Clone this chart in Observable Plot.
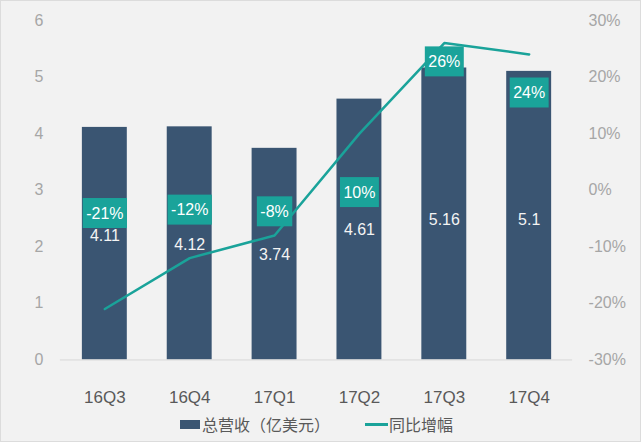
<!DOCTYPE html>
<html>
<head>
<meta charset="utf-8">
<script src="https://cdn.jsdelivr.net/npm/d3@7"></script>
<script src="https://cdn.jsdelivr.net/npm/@observablehq/plot@0.6"></script>
<style>
  html, body { margin: 0; padding: 0; background: #f2f2f2; }
  #wrap { position: relative; width: 641px; height: 442px; box-sizing: border-box;
          border: 1px solid #dcdcdc; background: #f2f2f2; overflow: hidden;
          font-family: "Liberation Sans", Arial, "Noto Sans CJK SC", sans-serif; }
  #chart { position: absolute; left: -1px; top: -1px; }
  #legend { position: absolute; left: 179px; top: 411px; display: flex; align-items: center;
            font-size: 16px; color: #595959; font-family: "Noto Sans CJK SC", "Liberation Sans", sans-serif; }
  .sw-bar { width: 20px; height: 9px; background: #3a5572; margin-right: 2px; }
  .sw-line { width: 23px; height: 3px; background: #1aa39a; margin-right: 1px; margin-left: 35px; }
</style>
</head>
<body>
<div id="wrap">
  <div id="chart"></div>
  <div id="legend">
    <div class="sw-bar"></div><span>总营收（亿美元）</span>
    <div class="sw-line"></div><span>同比增幅</span>
  </div>
</div>
<script>
// Data
const quarters = ["16Q3", "16Q4", "17Q1", "17Q2", "17Q3", "17Q4"];
const revenue = [4.11, 4.12, 3.74, 4.61, 5.16, 5.1];       // 总营收（亿美元）
const growth = [-21, -12, -8, 10, 26, 24];                  // 同比增幅 (%)
const leftTicks = [0, 1, 2, 3, 4, 5, 6];
const growthTicks = [-30, -20, -10, 0, 10, 20, 30];

// Secondary axis mapping: -30%..30% onto 0..6
const toLeft = p => (p + 30) / 10;

const rows = quarters.map((q, i) => ({q, rev: revenue[i], g: growth[i]}));

// label placement (in left-axis units), as hand-placed in the original
const pctLabelAt = [2.59, 2.65, 2.62, 2.96, 5.27, 4.72];
const valLabelAt = [2.2, 2.03, 1.85, 2.29, 2.48, 2.48];

const chart = Plot.plot({
  width: 641,
  height: 408,
  marginTop: 20,
  marginBottom: 48,
  marginLeft: 60,
  marginRight: 68,
  style: {background: "transparent", fontFamily: "'Liberation Sans', Arial, sans-serif", fontSize: "16px", overflow: "visible"},
  x: {domain: quarters, paddingInner: 0.475, paddingOuter: 0.2375, label: null},
  y: {domain: [0, 6], label: null},
  marks: [
    Plot.barY(rows, {x: "q", y: "rev", fill: "#3a5572"}),
    Plot.ruleY([0], {stroke: "#d9d9d9", strokeWidth: 1}),
    Plot.axisY({ticks: leftTicks, tickSize: 0, tickPadding: 17, anchor: "left", fill: "#a6a6a6", fontSize: 16, label: null, tickFormat: d => d}),
    Plot.axisY({ticks: growthTicks.map(toLeft), tickSize: 0, tickPadding: 16, anchor: "right", fill: "#a6a6a6", fontSize: 16, label: null,
                tickFormat: d => Math.round(d * 10 - 30) + "%"}),
    Plot.axisX({tickSize: 0, tickPadding: 31, fill: "#595959", fontSize: 17, label: null}),
    Plot.line(rows, {x: "q", y: d => toLeft(d.g), stroke: "#1aa39a", strokeWidth: 2.5}),
    Plot.text(rows, {x: "q", y: (d, i) => valLabelAt[i], text: d => String(d.rev), fill: "#f4f4f4", fontSize: 16}),
    Plot.text(rows, {x: "q", y: (d, i) => pctLabelAt[i], text: d => d.g + "%", fill: "#ffffff", fontSize: 16, className: "pctlbl"})
  ]
});

document.getElementById("chart").append(chart);

// teal boxes behind the growth labels
chart.querySelectorAll(".pctlbl text").forEach(t => {
  const b = t.getBBox();
  const r = document.createElementNS("http://www.w3.org/2000/svg", "rect");
  r.setAttribute("x", b.x - 3.5);
  r.setAttribute("y", b.y - 6.5);
  r.setAttribute("width", b.width + 7);
  r.setAttribute("height", b.height + 13);
  r.setAttribute("fill", "#1aa39a");
  const tr = t.getAttribute("transform");
  if (tr) r.setAttribute("transform", tr);
  t.parentNode.insertBefore(r, t);
});
</script>
</body>
</html>
